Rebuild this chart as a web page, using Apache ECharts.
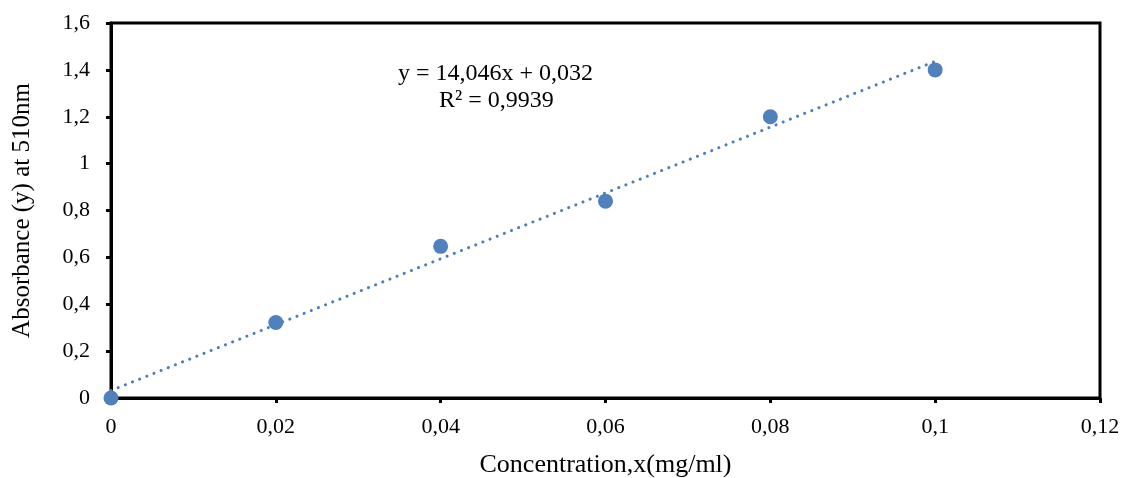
<!DOCTYPE html>
<html><head><meta charset="utf-8">
<script src="https://cdn.jsdelivr.net/npm/echarts@6/dist/echarts.min.js"></script>
<style>html,body{margin:0;padding:0;background:#fff}#c{width:1124px;height:478px}</style>
</head><body><div id="c"></div>
<script>
const concentration = [0, 0.02, 0.04, 0.06, 0.08, 0.1];
const absorbance = [0, 0.322, 0.647, 0.84, 1.2, 1.4];
const trendX = [0, 0.1];
const trendY = [0.032, 1.4366];
const equationText = 'y = 14,046x + 0,032';
const r2Text = 'R² = 0,9939';
const xTitle = 'Concentration,x(mg/ml)';
const yTitle = 'Absorbance (y) at 510nm';

const fmt = v => parseFloat(v.toFixed(4)).toString().replace('.', ',');
const font = '"Liberation Serif", "Times New Roman", serif';
const chart = echarts.init(document.getElementById('c'));
chart.setOption({
  animation: false,
  grid: {left: 111, right: 24, top: 23, bottom: 80, outerBoundsMode: 'none', containLabel: false,
         show: true, borderColor: '#000', borderWidth: 3, backgroundColor: 'transparent'},
  xAxis: {
    type: 'value', min: 0, max: 0.12, interval: 0.02,
    name: xTitle, nameLocation: 'middle', nameGap: 54,
    nameTextStyle: {fontFamily: font, fontSize: 26, color: '#000'},
    axisLine: {show: true, onZero: false, lineStyle: {color: '#000', width: 3}},
    axisTick: {show: true, inside: false, length: 5, lineStyle: {color: '#000', width: 3}},
    axisLabel: {formatter: fmt, fontFamily: font, fontSize: 22, color: '#000', margin: 18},
    splitLine: {show: false}
  },
  yAxis: {
    type: 'value', min: 0, max: 1.6, interval: 0.2,
    name: yTitle, nameLocation: 'middle', nameGap: 76, nameRotate: 90,
    nameTextStyle: {fontFamily: font, fontSize: 25, color: '#000'},
    axisLine: {show: true, lineStyle: {color: '#000', width: 3}},
    axisTick: {show: true, inside: false, length: 5, lineStyle: {color: '#000', width: 3}},
    axisLabel: {formatter: fmt, fontFamily: font, fontSize: 22, color: '#000', margin: 21},
    splitLine: {show: false}
  },
  series: [
    {
      type: 'line', data: trendX.map((x, i) => [x, trendY[i]]),
      showSymbol: false, symbol: 'none',
      lineStyle: {color: '#4A7EBB', width: 3, type: [0.1, 7.6], cap: 'round'},
      z: 2
    },
    {
      type: 'scatter', data: concentration.map((x, i) => [x, absorbance[i]]),
      symbolSize: 15, itemStyle: {color: '#4F81BD', opacity: 1}, z: 3
    }
  ],
  graphic: [
    {type: 'text', left: 398, top: 62, style: {text: equationText, font: '24px ' + font, fill: '#000'}},
    {type: 'text', left: 439, top: 89, style: {text: r2Text, font: '24px ' + font, fill: '#000'}}
  ]
});
</script></body></html>
